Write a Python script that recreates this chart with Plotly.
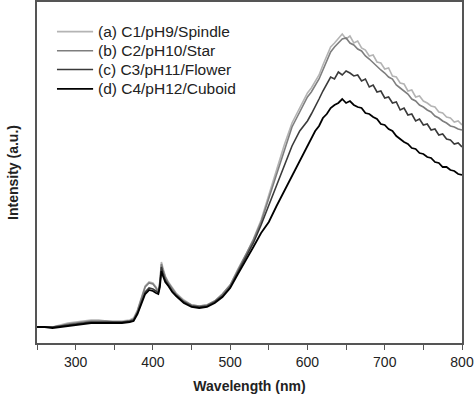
import plotly.graph_objects as go

wavelength = [250, 260, 270, 280, 290, 300, 310, 320, 330, 340, 350, 360, 370, 375, 380, 385, 390, 395, 400, 404,
              407, 409, 411, 413, 416, 420, 425, 430, 440, 450, 460, 470, 480, 490, 500, 510, 520, 530, 540, 550,
              560, 570, 580, 590, 600, 605, 610, 615, 620, 625, 630, 635, 640, 645, 650, 655, 660, 665, 670, 675,
              680, 685, 690, 695, 700, 705, 710, 715, 720, 725, 730, 735, 740, 745, 750, 755, 760, 765, 770, 775,
              780, 785, 790, 795, 800]

a_spindle = [16, 16, 16, 18, 20, 21, 22, 23, 23, 22, 22, 22, 23, 25, 33, 45, 57, 61, 60, 56,
             52, 62, 81, 75, 67, 61, 55, 50, 43, 38, 37, 38, 42, 49, 58, 74, 88, 104, 123, 148,
             173, 198, 220, 235, 250, 255, 262, 268, 278, 287, 296, 300, 305, 309, 304, 307, 300, 302, 295, 293,
             287, 288, 281, 280, 274, 275, 267, 266, 260, 259, 252, 253, 246, 247, 242, 240, 237, 236, 231, 230,
             226, 225, 221, 222, 218]

b_star = [16, 16, 16, 17, 19, 20, 21, 22, 22, 22, 21, 21, 22, 24, 32, 44, 56, 60, 59, 55,
          51, 60, 79, 73, 66, 60, 54, 49, 42, 38, 37, 38, 42, 49, 58, 73, 87, 103, 121, 145,
          170, 194, 216, 231, 246, 251, 258, 264, 273, 282, 291, 296, 300, 304, 305, 300, 298, 294, 292, 287,
          284, 280, 277, 273, 270, 266, 264, 258, 255, 252, 249, 244, 242, 238, 236, 233, 231, 227, 225, 222,
          220, 217, 216, 214, 213]

c_flower = [16, 16, 16, 17, 18, 19, 20, 21, 21, 21, 21, 21, 22, 23, 30, 41, 51, 55, 54, 52,
            50, 58, 76, 70, 63, 58, 52, 48, 41, 37, 36, 37, 41, 47, 56, 71, 85, 100, 118, 138,
            158, 178, 197, 212, 222, 229, 236, 244, 252, 259, 266, 264, 271, 268, 272, 270, 267, 268, 262, 264,
            256, 258, 251, 252, 245, 246, 240, 241, 233, 235, 228, 229, 222, 224, 218, 219, 213, 214, 208, 209,
            204, 203, 199, 200, 196]

d_cuboid = [16, 16, 15, 16, 17, 18, 19, 20, 20, 20, 20, 20, 21, 22, 29, 40, 49, 53, 52, 50,
            49, 56, 72, 67, 61, 57, 51, 47, 40, 36, 35, 36, 40, 46, 55, 69, 82, 96, 110, 121,
            137, 152, 168, 182, 198, 204, 212, 217, 225, 229, 235, 238, 240, 244, 240, 242, 238, 236, 235, 230,
            229, 226, 224, 219, 218, 214, 212, 207, 204, 201, 199, 195, 194, 190, 189, 186, 185, 181, 180, 176,
            176, 173, 172, 169, 168]

series_names = ["(a) C1/pH9/Spindle", "(b) C2/pH10/Star", "(c) C3/pH11/Flower", "(d) C4/pH12/Cuboid"]
series_values = [a_spindle, b_star, c_flower, d_cuboid]
series_colors = ["#b4b4b4", "#7e7e7e", "#3a3a3a", "#000000"]
series_widths = [1.6, 1.6, 1.6, 1.8]

fig = go.Figure()
for name, vals, col, w in zip(series_names, series_values, series_colors, series_widths):
    fig.add_trace(go.Scatter(x=wavelength, y=vals, mode="lines", name=name,
                             line=dict(color=col, width=w)))

# legend drawn as key lines + text labels (tight row spacing like the original)
legend_rows_y = [0.913, 0.857, 0.802, 0.745]
for name, col, w, yy in zip(series_names, series_colors, series_widths, legend_rows_y):
    fig.add_shape(type="line", xref="paper", yref="paper", x0=0.047, x1=0.132, y0=yy, y1=yy,
                  line=dict(color=col, width=w))
    fig.add_annotation(xref="paper", yref="paper", x=0.139, y=yy, xanchor="left", yanchor="middle",
                       text=name, showarrow=False, font=dict(size=15.5, color="#222"))

fig.update_layout(
    width=474, height=395,
    margin=dict(l=37, r=12, t=2, b=52),
    plot_bgcolor="white", paper_bgcolor="white",
    font=dict(family="Liberation Sans, Arial, sans-serif", color="#222"),
    showlegend=False,
)
fig.update_xaxes(range=[250, 800], tick0=300, dtick=100, ticks="outside", ticklen=5,
                 tickcolor="#555", tickwidth=1.2, automargin=False,
                 minor=dict(dtick=50, tick0=250, ticks="outside", ticklen=5, tickcolor="#555", tickwidth=1.2),
                 showline=True, linecolor="#555", linewidth=1.5, mirror=True,
                 showgrid=False, zeroline=False, tickfont=dict(size=14),
                 title=dict(text="<b>Wavelength (nm)</b>", font=dict(size=14), standoff=13))
fig.update_yaxes(range=[0, 341], showticklabels=False, ticks="", automargin=False,
                 showline=True, linecolor="#555", linewidth=1.5, mirror=True,
                 showgrid=False, zeroline=False,
                 title=dict(text="<b>Intensity (a.u.)</b>", font=dict(size=14), standoff=13))

fig.write_html("out.html", config={"displayModeBar": False},
               post_script="document.body.style.margin='0';document.body.style.padding='0';document.body.style.overflow='hidden';")
